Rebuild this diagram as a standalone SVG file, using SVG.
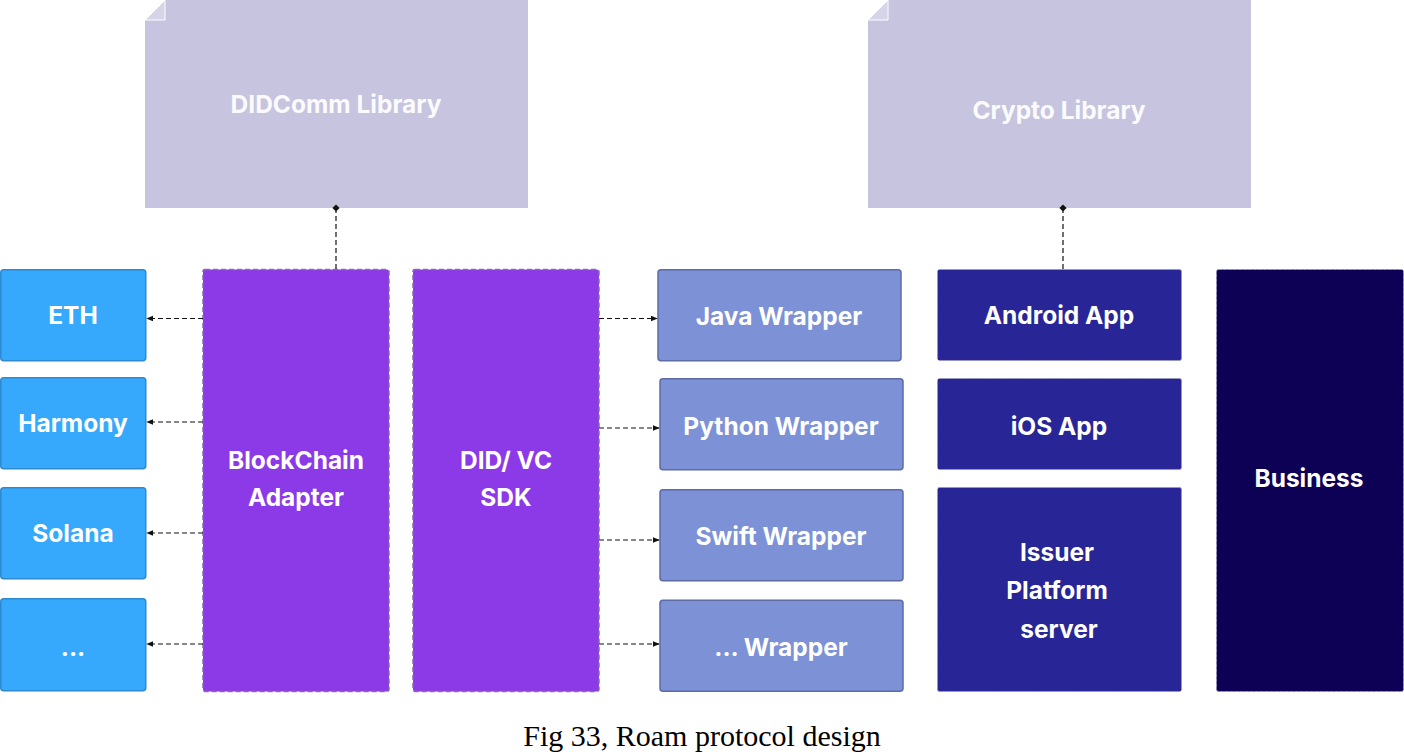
<svg xmlns="http://www.w3.org/2000/svg" width="1404" height="755" viewBox="0 0 1404 755">
<defs>
<style>
.lbl{font-family:Inter,"Noto Sans","Liberation Sans",sans-serif;font-weight:700;font-size:24.5px;fill:#ffffff;text-anchor:middle;dominant-baseline:central}
.lib{fill:#c6c4de}
.libt{font-family:Inter,"Noto Sans","Liberation Sans",sans-serif;font-weight:700;font-size:24.5px;fill:#fbfbfe;text-anchor:middle;dominant-baseline:central}
.chain{fill:#36a9fd;stroke:#2d8ad0;stroke-width:1.5}
.core{fill:#8c3ae8;stroke:#8a6aa8;stroke-width:1.5;stroke-dasharray:5 3}
.wrap{fill:#7d91d6;stroke:#5d6ba6;stroke-width:1.5}
.app{fill:#282596;stroke:#9a9ab8;stroke-width:1;stroke-dasharray:3 2}
.biz{fill:#0d0156;stroke:#9a9ab8;stroke-width:1;stroke-dasharray:3 2}
.conn{stroke:#111;stroke-width:1.2;stroke-dasharray:5 3;fill:none}
.cap{font-family:"Liberation Serif","Times New Roman",serif;font-size:30px;fill:#000;text-anchor:middle}
</style>
<marker id="ah" viewBox="0 0 10 10" refX="9" refY="5" markerWidth="6" markerHeight="6" orient="auto-start-reverse"><path d="M0,1 L10,5 L0,9 Z" fill="#111"/></marker>
<marker id="dot" viewBox="0 0 10 10" refX="5" refY="5" markerWidth="6" markerHeight="6"><path d="M5,0 L10,5 L5,10 L0,5 Z" fill="#111"/></marker>
</defs>
<rect width="1404" height="755" fill="#fff"/>

<g id="didcomm">
<path class="lib" d="M165,0 H528 V208 H145 V20 Z"/>
<path d="M145,20 L165,0 V20 Z" fill="#d6d4e8" stroke="#fff" stroke-width="1"/>
<text class="libt" x="336" y="104">DIDComm Library</text>
</g>
<g id="crypto">
<path class="lib" d="M888,0 H1251 V208 H868 V20 Z"/>
<path d="M868,20 L888,0 V20 Z" fill="#d6d4e8" stroke="#fff" stroke-width="1"/>
<text class="libt" x="1059" y="110">Crypto Library</text>
</g>

<g id="eth"><rect class="chain" x="0.75" y="269.75" width="145" height="91" rx="3"/><text class="lbl" x="73" y="315">ETH</text></g>
<g id="harmony"><rect class="chain" x="0.75" y="377.75" width="145" height="91" rx="3"/><text class="lbl" x="73" y="423">Harmony</text></g>
<g id="solana"><rect class="chain" x="0.75" y="487.75" width="145" height="91" rx="3"/><text class="lbl" x="73" y="533">Solana</text></g>
<g id="more-chain"><rect class="chain" x="0.75" y="598.75" width="145" height="92" rx="3"/><text class="lbl" x="73" y="647">...</text></g>

<g id="blockchain-adapter"><rect class="core" x="203" y="269.5" width="186" height="422" rx="2"/><text class="lbl" x="296" y="460">BlockChain</text><text class="lbl" x="296" y="497">Adapter</text></g>
<g id="did-vc-sdk"><rect class="core" x="413" y="269.5" width="186" height="422" rx="2"/><text class="lbl" x="506" y="460">DID/ VC</text><text class="lbl" x="506" y="497">SDK</text></g>

<g id="java"><rect class="wrap" x="658" y="269.75" width="243" height="91" rx="3"/><text class="lbl" x="779" y="316">Java Wrapper</text></g>
<g id="python"><rect class="wrap" x="660" y="378.75" width="243" height="91" rx="3"/><text class="lbl" x="781" y="426">Python Wrapper</text></g>
<g id="swift"><rect class="wrap" x="660" y="489.75" width="243" height="91" rx="3"/><text class="lbl" x="781" y="536">Swift Wrapper</text></g>
<g id="more-wrapper"><rect class="wrap" x="660" y="600.25" width="243" height="91" rx="3"/><text class="lbl" x="781" y="647">... Wrapper</text></g>

<g id="android"><rect class="app" x="937.5" y="269.5" width="244" height="91" rx="2"/><text class="lbl" x="1059" y="315">Android App</text></g>
<g id="ios"><rect class="app" x="937.5" y="378.5" width="244" height="91" rx="2"/><text class="lbl" x="1059" y="426">iOS App</text></g>
<g id="issuer"><rect class="app" x="937.5" y="487.5" width="244" height="204" rx="2"/><text class="lbl" x="1057" y="552">Issuer</text><text class="lbl" x="1057" y="590">Platform</text><text class="lbl" x="1059" y="629">server</text></g>
<g id="business"><rect class="biz" x="1216.5" y="269.5" width="187" height="422" rx="2"/><text class="lbl" x="1309" y="478">Business</text></g>

<g id="connectors">
<line class="conn" x1="336" y1="208" x2="336" y2="269" marker-start="url(#dot)"/>
<line class="conn" x1="1063" y1="208" x2="1063" y2="269" marker-start="url(#dot)"/>
<line class="conn" x1="203" y1="318.5" x2="147" y2="318.5" marker-end="url(#ah)"/>
<line class="conn" x1="203" y1="422" x2="147" y2="422" marker-end="url(#ah)"/>
<line class="conn" x1="203" y1="533" x2="147" y2="533" marker-end="url(#ah)"/>
<line class="conn" x1="203" y1="644" x2="147" y2="644" marker-end="url(#ah)"/>
<line class="conn" x1="599" y1="318.5" x2="657" y2="318.5" marker-end="url(#ah)"/>
<line class="conn" x1="599" y1="428" x2="659" y2="428" marker-end="url(#ah)"/>
<line class="conn" x1="599" y1="540" x2="659" y2="540" marker-end="url(#ah)"/>
<line class="conn" x1="599" y1="644" x2="659" y2="644" marker-end="url(#ah)"/>
</g>

<text class="cap" x="702" y="746">Fig 33, Roam protocol design</text>
</svg>
